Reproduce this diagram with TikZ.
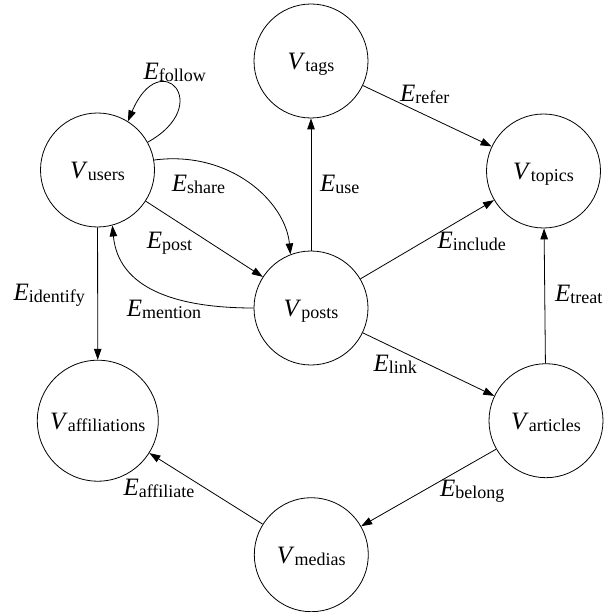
\documentclass[tikz,border=0pt]{standalone}
\usepackage{fontspec}
\setmainfont{Liberation Serif}
\usetikzlibrary{arrows.meta}
\newcommand\lbl[2]{\textit{#1}\raisebox{-2pt}{\fontsize{18}{18}\selectfont #2}}
\begin{document}
\begin{tikzpicture}[x=1pt,y=-1pt,
  vert/.style={circle,draw,line width=0.8pt,minimum size=114pt,inner sep=0pt,
    text height=17pt,text depth=0pt,font=\fontsize{25}{30}\selectfont},
  elab/.style={anchor=base west,inner sep=0pt,font=\fontsize{25}{30}\selectfont},
  edge/.style={line width=0.8pt,-{Triangle[length=11pt,width=7.5pt]}}]
\useasboundingbox (0,0) rectangle (604,612);
% vertices
\node[vert] (tags) at (311,61) {\lbl{V}{tags}};
\node[vert] (users) at (97.5,170) {\lbl{V}{users}};
\node[vert] (topics) at (543.5,171) {\lbl{V}{topics}};
\node[vert] (posts) at (311,308) {\lbl{V}{posts}};
\node[vert,minimum size=121pt] (affiliations) at (97.8,420.7) {\lbl{V}{affiliations}};
\node[vert] (articles) at (546,420.7) {\lbl{V}{articles}};
\node[vert] (medias) at (311.3,554.7) {\lbl{V}{medias}};
% edges
\draw[edge] (users.29) .. controls +(67.6,-37.4) and +(32.3,-76.7) .. (users.58);
\draw[edge] (users.10) .. controls +(76,-10) and +(-5,-53) .. (posts.111);
\draw[edge] (users) -- (posts);
\draw[edge] (posts.180) .. controls +(-80,0) and +(6,62) .. (users.-75);
\draw[edge] (users) -- (affiliations);
\draw[edge] (posts) -- (tags);
\draw[edge] (tags) -- (topics);
\draw[edge] (posts) -- (topics);
\draw[edge] (articles) -- (topics);
\draw[edge] (posts) -- (articles);
\draw[edge] (articles) -- (medias);
\draw[edge] (medias) -- (affiliations);
% edge labels
\node[elab] (lfollow) at (143.3,80) {\lbl{E}{follow}};
\node[elab] (lshare) at (171.7,191.7) {\lbl{E}{share}};
\node[elab] (lpost) at (146.7,248.3) {\lbl{E}{post}};
\node[elab] (lidentify) at (13.3,300) {\lbl{E}{identify}};
\node[elab] (lmention) at (126.7,316.7) {\lbl{E}{mention}};
\node[elab] (luse) at (320,191.7) {\lbl{E}{use}};
\node[elab] (lrefer) at (400,101.7) {\lbl{E}{refer}};
\node[elab] (linclude) at (437.3,248.3) {\lbl{E}{include}};
\node[elab] (ltreat) at (555,301.7) {\lbl{E}{treat}};
\node[elab] (llink) at (373.3,371.7) {\lbl{E}{link}};
\node[elab] (lbelong) at (440,496.7) {\lbl{E}{belong}};
\node[elab] (laffiliate) at (123.3,495) {\lbl{E}{affiliate}};
\end{tikzpicture}
\end{document}
